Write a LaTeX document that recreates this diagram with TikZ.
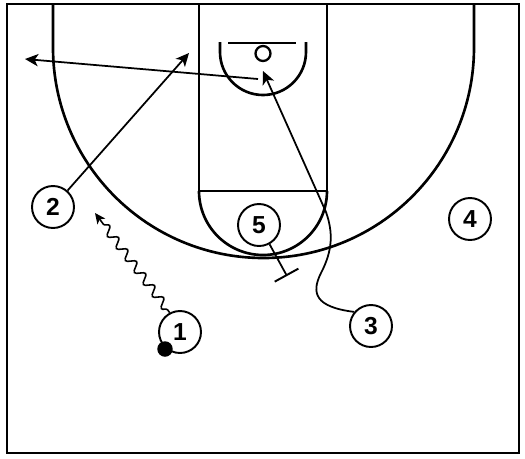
\documentclass[tikz,border=0pt]{standalone}
\usepackage{fontspec}
\setmainfont{Liberation Sans}
\usepackage{tikz}
\usetikzlibrary{arrows.meta, calc, decorations.pathmorphing, positioning}
\tikzset{
	court/.style={line width=1.5pt,black},
	player/.style={circle, draw=black, fill=white, line width=1.1pt,
		minimum size=0.84cm, inner sep=0pt,
		font=\bfseries\fontsize{14}{14}\selectfont},
	ball/.style={circle, fill=black, minimum size=0.31cm, inner sep=0pt},
	cut/.style={line width=1pt,-{Stealth[length=7.5pt,width=7pt,inset=2pt]}},
	pass/.style={line width=1pt,-{Stealth[length=7.5pt,width=7pt,inset=2pt]}},
	screen/.style={line width=1pt,-{Bar[width=0.54cm,line width=1.1pt]}},
	dribble/.style={line width=0.9pt,-{Stealth[length=6pt,width=5.5pt,inset=1.5pt]},
		decorate, decoration={snake, amplitude=0.085cm, segment length=0.3cm,
		pre length=2pt, post length=5pt}}
}

\begin{document}
\begin{tikzpicture}[x=0.02cm,y=-0.02cm]
	\useasboundingbox (0,0) rectangle (525,458);

	% half court
	\draw[court] (7,4) rectangle (519,453);
	\draw[court] (53,4) -- (53,47.5) arc[start angle=180, end angle=0, radius=210.5] -- (474,4);
	\draw[court] (199,4) -- (199,191) -- (327,191) -- (327,4);
	\draw[court] (199,191) arc[start angle=180, end angle=0, radius=64];
	\draw[court] (220,42) -- (220,52) arc[start angle=180, end angle=0, radius=43] -- (306,42);
	\draw[court] (228,43) -- (296,43);
	\draw[line width=1.3pt] (263,53.5) circle[radius=7.5];

	% players
	\node[player] (p1) at (180,332) {1};
	\node[player] (p2) at (53,207) {2};
	\node[player] (p3) at (371,326) {3};
	\node[player] (p4) at (470,219) {4};
	\node[player] (p5) at (259,225) {5};
	\node[ball] (ball) at (165,349) {};

	\coordinate (rim) at (258,79);
	\coordinate (wing) at (25,59);
	\coordinate (cut2) at (189,53);
	\coordinate (cut3) at (263,71);
	\coordinate (pick) at (287,276);
	\coordinate (drib) at (95,213);

	% actions
	\draw[pass] (rim) -- (wing);
	\draw[cut] (p2) -- (cut2);
	\draw[cut] (p3.140) .. controls (315,307) and (311,293) .. (321,273)
		.. controls (333,250) and (333,232) .. (326,212) -- (cut3);
	\draw[screen] (p5) -- (pick);
	\draw[dribble] (p1.118) -- (drib);
\end{tikzpicture}
\end{document}
